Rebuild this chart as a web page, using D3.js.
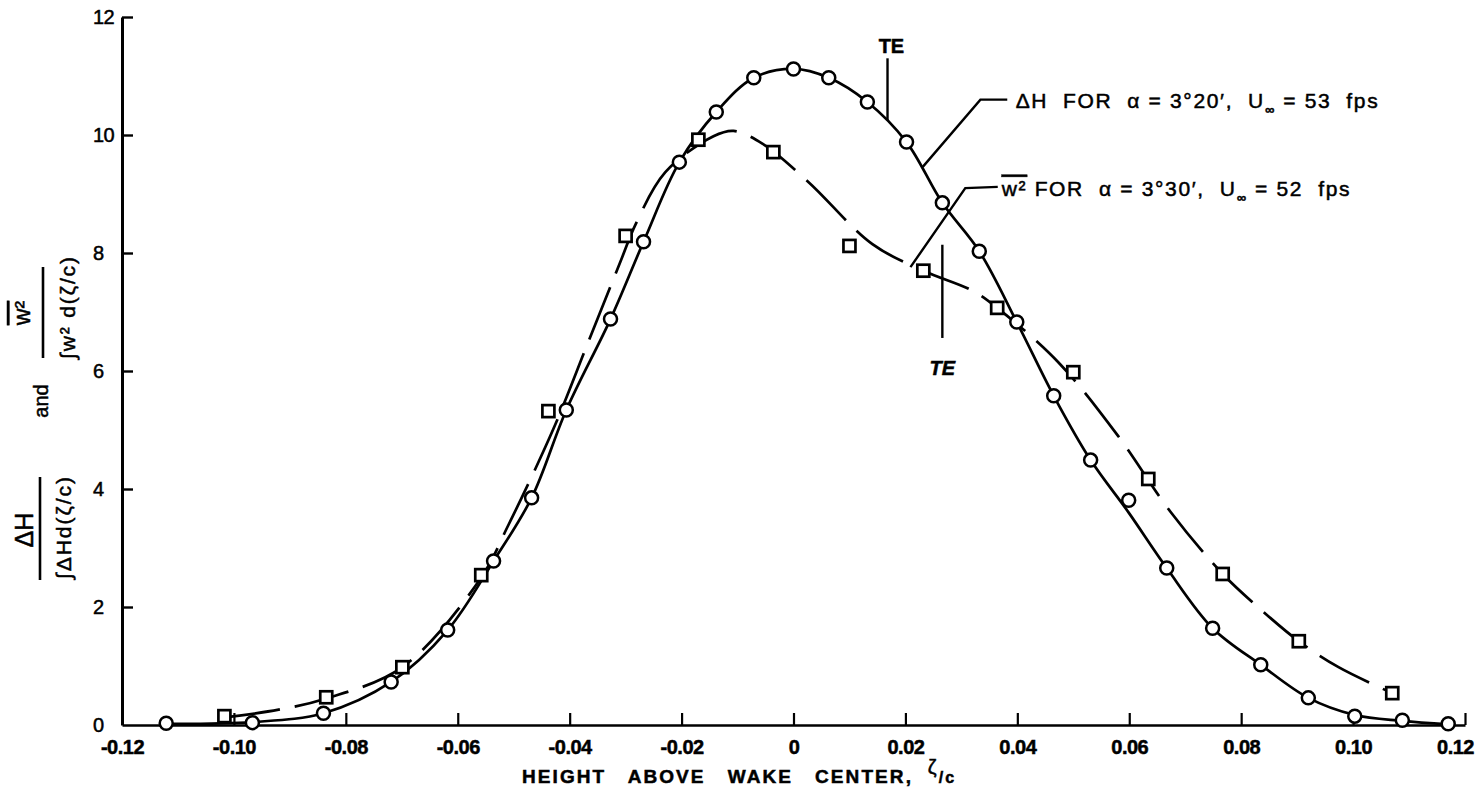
<!DOCTYPE html>
<html><head><meta charset="utf-8">
<script src="https://cdn.jsdelivr.net/npm/d3@7"></script>
<style>
body{margin:0;background:#fff}
svg{display:block}
text{font-family:"Liberation Sans",Arial,sans-serif;fill:#000;stroke:#000;stroke-width:0.5px}
</style>
</head><body>
<svg id="c" width="1483" height="794"></svg>
<script>
// ---- tick values & labels ----
const xTicks = [-0.12,-0.10,-0.08,-0.06,-0.04,-0.02,0,0.02,0.04,0.06,0.08,0.10,0.12];
const xTickLabels = ["-0.12","-0.10","-0.08","-0.06","-0.04","-0.02","0","0.02","0.04","0.06","0.08","0.10","0.12"];
const yTicks = [0,2,4,6,8,10,12];
const yTickLabels = ["0","2","4","6","8","10","12"];

// ---- ΔH data (circles) ----
const dhX = [-0.1121,-0.0967,-0.0840,-0.0719,-0.0618,-0.0536,-0.0468,-0.0406,-0.0327,-0.0268,-0.0204,-0.0138,-0.0071,0.0000,0.0063,0.0132,0.0202,0.0266,0.0332,0.0399,0.0465,0.0531,0.0599,0.0667,0.0749,0.0835,0.0920,0.1003,0.1088,0.1170];
const dhY = [0.03,0.04,0.20,0.73,1.61,2.78,3.85,5.34,6.88,8.19,9.54,10.39,10.97,11.12,10.97,10.56,9.88,8.85,8.03,6.83,5.58,4.49,3.81,2.66,1.64,1.02,0.46,0.15,0.08,0.02];
// faired ΔH curve
const dhCurveX = [-0.1121,-0.0967,-0.0840,-0.0719,-0.0618,-0.0536,-0.0468,-0.0406,-0.0327,-0.0268,-0.0204,-0.0138,-0.0071,0.0000,0.0063,0.0132,0.0202,0.0266,0.0332,0.0399,0.0465,0.0531,0.0599,0.0667,0.0749,0.0835,0.0920,0.1003,0.1088,0.1170];
const dhCurveY = [0.02,0.05,0.20,0.73,1.61,2.78,3.85,5.34,6.88,8.19,9.54,10.39,10.97,11.12,10.97,10.56,9.88,8.85,8.03,6.83,5.58,4.49,3.60,2.66,1.64,1.02,0.46,0.17,0.07,0.01];

// ---- w² data (squares) ----
const w2X = [-0.1017,-0.0835,-0.0699,-0.0558,-0.0438,-0.0300,-0.0170,-0.0036,0.0100,0.0232,0.0364,0.0500,0.0634,0.0767,0.0903,0.1070];
const w2Y = [0.15,0.47,0.98,2.54,5.32,8.29,9.92,9.71,8.12,7.70,7.07,5.98,4.17,2.56,1.42,0.54];
// faired w² curve
const w2CurveX = [-0.1017,-0.0920,-0.0835,-0.0699,-0.0558,-0.0511,-0.0429,-0.0366,-0.0309,-0.0282,-0.0229,-0.0143,-0.0107,-0.0055,0.0027,0.0141,0.0232,0.0320,0.0364,0.0474,0.0580,0.0674,0.0767,0.0830,0.0903,0.0974,0.1070];
const w2CurveY = [0.13,0.26,0.45,0.98,2.50,3.36,5.02,6.51,7.86,8.49,9.37,9.98,10.07,9.85,9.20,8.15,7.70,7.36,7.07,6.14,4.90,3.61,2.56,2.00,1.42,0.98,0.54];

// ---- annotation anchors (data units) ----
const teTopLineX = [0.0168,0.0168], teTopLineY = [10.25,11.30];
const teTopText = {x:0.0175, y:11.39, t:"TE"};
const teLowLineX = [0.0266,0.0266], teLowLineY = [6.56,8.14];
const teLowText = {x:0.0266, y:5.93, t:"TE"};
const dhLeaderX = [0.0231,0.0334,0.0382], dhLeaderY = [9.46,10.60,10.60];
const w2LeaderX = [0.0209,0.0307,0.0365], w2LeaderY = [7.76,9.10,9.12];

const svg = d3.select("#c");
const x = d3.scaleLinear().domain([-0.12,0.12]).range([122,1465]);
const y = d3.scaleLinear().domain([0,12]).range([725,17]);
const FONT = "Liberation Sans, Arial, sans-serif";

// ---- axes ----
const gx = svg.append("g").attr("transform",`translate(0,${y(0)})`)
  .call(d3.axisBottom(x).tickValues(xTicks).tickSize(-12).tickSizeOuter(0).tickPadding(15)
        .tickFormat((d,i)=>xTickLabels[i]));
gx.select(".domain").attr("stroke","#000").attr("stroke-width",2.6);
gx.selectAll(".tick line").attr("stroke","#000").attr("stroke-width",2.2);
gx.selectAll(".tick text").attr("font-size",20).attr("font-family",FONT).attr("fill","#000")
  .attr("font-weight","bold").attr("stroke-width",0.2).attr("letter-spacing",-0.5);
gx.selectAll(".tick").filter((d,i)=>i===0).select("line").remove();
gx.selectAll(".tick").filter((d,i)=>i===xTicks.length-1).select("text").attr("dx",-10);

const gy = svg.append("g").attr("transform",`translate(${x(-0.12)},0)`)
  .call(d3.axisRight(y).tickValues(yTicks).tickSize(11).tickSizeOuter(0)
        .tickFormat((d,i)=>yTickLabels[i]));
gy.select(".domain").attr("stroke","#000").attr("stroke-width",3);
gy.selectAll(".tick line").attr("stroke","#000").attr("stroke-width",2.4);
gy.selectAll(".tick text").attr("x",-29).attr("text-anchor","start").attr("font-size",20)
  .attr("font-family",FONT).attr("fill","#000").attr("stroke-width",0.6).attr("letter-spacing",-0.5);
gy.selectAll(".tick").filter(d=>d===0).select("line").remove();

// ---- curves ----
const line = d3.line().x(d=>x(d[0])).y(d=>y(d[1])).curve(d3.curveCatmullRom.alpha(0.5));
svg.append("path").datum(dhCurveX.map((v,i)=>[v,dhCurveY[i]]))
  .attr("d",line).attr("fill","none").attr("stroke","#000").attr("stroke-width",2.7);
svg.append("path").datum(w2CurveX.map((v,i)=>[v,w2CurveY[i]]))
  .attr("d",line).attr("fill","none").attr("stroke","#000").attr("stroke-width",2.7)
  .attr("stroke-dasharray","56,15");

// ---- annotation lines ----
const plain = d3.line().x(d=>x(d[0])).y(d=>y(d[1]));
[[teTopLineX,teTopLineY],[teLowLineX,teLowLineY],[dhLeaderX,dhLeaderY],[w2LeaderX,w2LeaderY]].forEach(([ax,ay])=>{
  svg.append("path").datum(ax.map((v,i)=>[v,ay[i]])).attr("d",plain)
    .attr("fill","none").attr("stroke","#000").attr("stroke-width",2.4);
});

// ---- markers ----
svg.append("g").selectAll("circle").data(dhX.map((v,i)=>[v,dhY[i]])).join("circle")
  .attr("cx",d=>x(d[0])).attr("cy",d=>y(d[1])).attr("r",6.5)
  .attr("fill","#fff").attr("stroke","#000").attr("stroke-width",2.5);
const s = 12;
svg.append("g").selectAll("rect").data(w2X.map((v,i)=>[v,w2Y[i]])).join("rect")
  .attr("x",d=>x(d[0])-s/2).attr("y",d=>y(d[1])-s/2).attr("width",s).attr("height",s)
  .attr("fill","#fff").attr("stroke","#000").attr("stroke-width",2.7);

// ---- annotation texts ----
function fitText(sel, target){
  const n = sel.node(); const len = n.getComputedTextLength();
  const chars = n.textContent.length;
  sel.attr("letter-spacing", ((target-len)/(chars-1)).toFixed(2));
}
svg.append("text").attr("x",x(teTopText.x)).attr("y",y(teTopText.y)).attr("text-anchor","middle")
  .attr("font-size",20).attr("font-weight","bold").attr("stroke-width",0.2).text(teTopText.t);
svg.append("text").attr("x",x(teLowText.x)).attr("y",y(teLowText.y)).attr("text-anchor","middle")
  .attr("font-size",20).attr("font-weight","bold").attr("stroke-width",0.2).attr("font-style","italic").text(teLowText.t);

const t1 = svg.append("text").attr("x",x(0.0397)).attr("y",y(10.45)).attr("font-size",21).style("white-space","pre");
t1.append("tspan").text("ΔH  FOR  α = 3°20′,  U");
t1.append("tspan").attr("font-size",13).attr("dy",6).attr("font-weight","bold").text("∞");
t1.append("tspan").attr("dy",-6).text(" = 53  fps");
fitText(t1, 362);

const t2 = svg.append("text").attr("x",x(0.0372)).attr("y",y(8.97)).attr("font-size",21).style("white-space","pre");
t2.append("tspan").style("text-decoration","overline").text("w²");
t2.append("tspan").text(" FOR  α = 3°30′,  U");
t2.append("tspan").attr("font-size",13).attr("dy",6).attr("font-weight","bold").text("∞");
t2.append("tspan").attr("dy",-6).text(" = 52  fps");
fitText(t2, 348);

// ---- x axis title ----
const xt = svg.append("text").attr("x",522).attr("y",783).attr("font-size",19)
  .attr("font-weight","bold").attr("stroke-width",0.2).style("white-space","pre");
xt.append("tspan").text("HEIGHT   ABOVE   WAKE   CENTER,  ");
xt.append("tspan").attr("dy",-9).attr("font-size",20).attr("font-weight","normal").text("ζ");
xt.append("tspan").attr("dy",9).attr("font-size",16).text("/c");
fitText(xt, 432);

// ---- y axis title (rotated) ----
function rot(x0,y0,str,size){
  return svg.append("text").attr("transform",`translate(${x0},${y0}) rotate(-90)`)
    .attr("text-anchor","middle").attr("font-size",size).text(str);
}
rot(33,530,"ΔH",25);
svg.append("line").attr("x1",40).attr("x2",40).attr("y1",477).attr("y2",580).attr("stroke","#000").attr("stroke-width",2.6);
const d1 = rot(71,528,"∫ΔHd(ζ/c)",21); d1.attr("textLength",102).attr("lengthAdjust","spacing");
rot(48,401,"and",20);
rot(30,313,"w²",23).style("text-decoration","overline");
svg.append("line").attr("x1",43).attr("x2",43).attr("y1",267).attr("y2",358).attr("stroke","#000").attr("stroke-width",2.6);
const d2 = rot(75,308,"∫w² d(ζ/c)",21); d2.attr("textLength",102).attr("lengthAdjust","spacing");
</script>
</body></html>
